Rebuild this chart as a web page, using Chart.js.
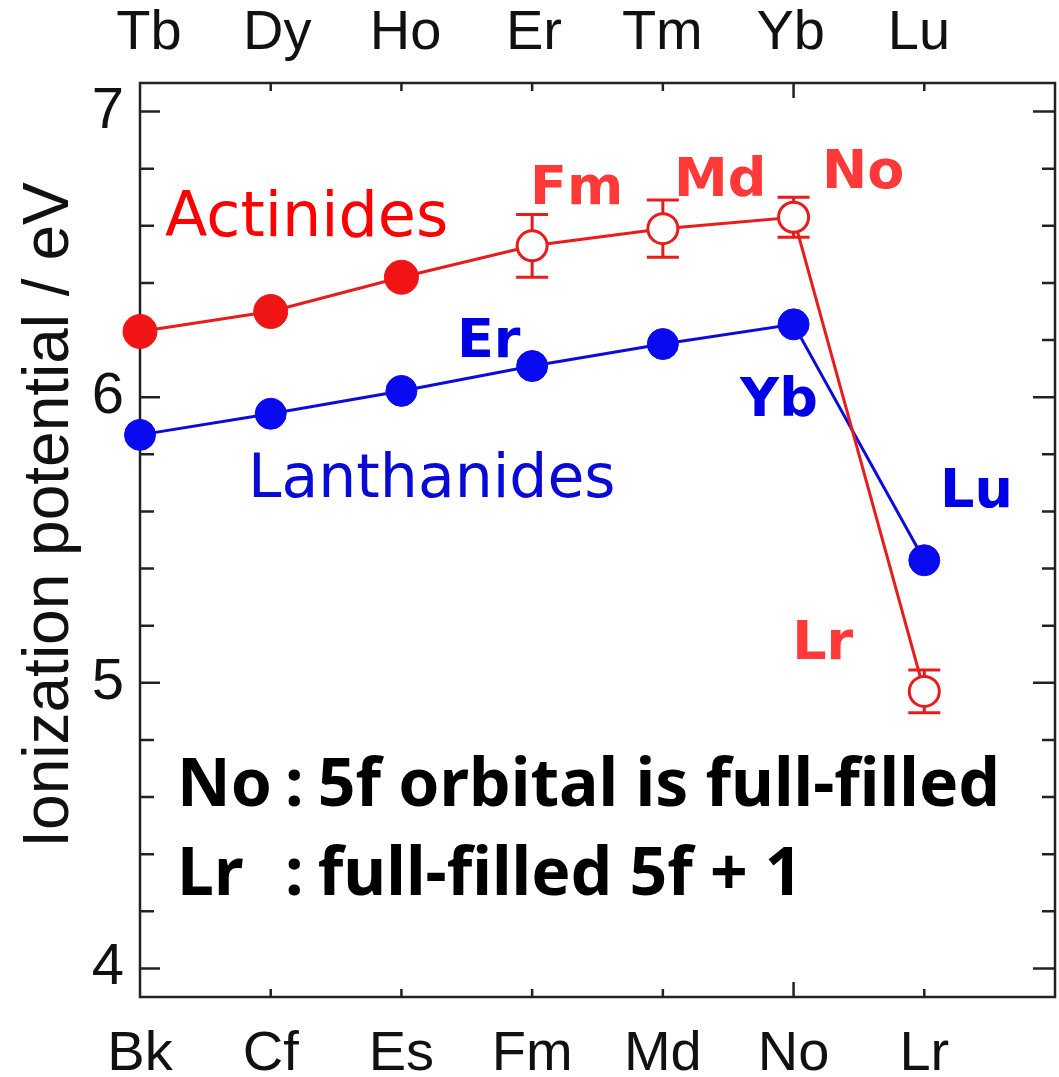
<!DOCTYPE html>
<html>
<head>
<meta charset="utf-8">
<script src="https://cdn.jsdelivr.net/npm/chart.js@4.4.1/dist/chart.umd.min.js"></script>
<style>
  html, body { margin: 0; padding: 0; background: #fff; overflow: hidden; }
  #wrap { width: 1059px; height: 1077px; }
  #myChart { display: block; }
</style>
</head>
<body>
<div id="wrap"><canvas id="myChart"></canvas></div>
<script>
// Actinides (bottom axis) and lanthanides (top axis), ionization potential in eV
const actinides = ['Bk', 'Cf', 'Es', 'Fm', 'Md', 'No', 'Lr'];
const lanthanides = ['Tb', 'Dy', 'Ho', 'Er', 'Tm', 'Yb', 'Lu'];
const actinideIP = [6.23, 6.30, 6.42, 6.53, 6.59, 6.63, 4.97];
const actinideErr = [null, null, null, 0.11, 0.10, 0.07, 0.075];
const lanthanideIP = [5.868, 5.942, 6.022, 6.109, 6.186, 6.255, 5.429];
const yLabels = [4, 5, 6, 7];

const RED = '#e81c1c';
const BLUE = '#0c0cd8';

// text notes, anchored in data coordinates (left / baseline)
const bigFont = 'bold 66px "Noto Sans"';
const notes = [
  { text: 'Actinides', x: 0.191, y: 6.566, font: '62px "DejaVu Sans"', color: '#ff0000' },
  { text: 'Lanthanides', x: 0.827, y: 5.652, font: '60px "DejaVu Sans"', color: '#0a0ad6' },
  { text: 'Fm', x: 2.984, y: 6.678, font: 'bold 54px "DejaVu Sans"', color: '#ff3838' },
  { text: 'Md', x: 4.086, y: 6.705, font: 'bold 54px "DejaVu Sans"', color: '#ff3838' },
  { text: 'No', x: 5.218, y: 6.733, font: 'bold 54px "DejaVu Sans"', color: '#ff3838' },
  { text: 'Lr', x: 4.989, y: 5.083, font: 'bold 54px "DejaVu Sans"', color: '#ff3838' },
  { text: 'Er', x: 2.425, y: 6.140, font: 'bold 54px "DejaVu Sans"', color: '#0000e6' },
  { text: 'Yb', x: 4.591, y: 5.935, font: 'bold 54px "DejaVu Sans"', color: '#0000e6' },
  { text: 'Lu', x: 6.121, y: 5.614, font: 'bold 54px "DejaVu Sans"', color: '#0000e6' },
  { text: 'No', x: 0.283, y: 4.567, font: bigFont, color: '#000' },
  { text: ':', x: 1.11, y: 4.567, font: bigFont, color: '#000' },
  { text: '5f orbital is full-filled', x: 1.36, y: 4.567, font: bigFont, color: '#000' },
  { text: 'Lr', x: 0.283, y: 4.257, font: bigFont, color: '#000' },
  { text: ':', x: 1.11, y: 4.257, font: bigFont, color: '#000' },
  { text: 'full-filled 5f + 1', x: 1.36, y: 4.257, font: bigFont, color: '#000' }
];

const overlay = {
  id: 'overlay',
  beforeDatasetsDraw(chart) {
    const ctx = chart.ctx, xs = chart.scales.x, ys = chart.scales.y;
    const a = chart.chartArea;
    ctx.save();
    // frame
    ctx.strokeStyle = '#222';
    ctx.lineWidth = 2.5;
    ctx.strokeRect(a.left, a.top, a.right - a.left, a.bottom - a.top);
    // y ticks (inward, both sides)
    for (let k = 0; k <= 15; k++) {
      const v = 4 + k * 0.2;
      const py = ys.getPixelForValue(v);
      const major = k % 5 === 0;
      ctx.beginPath();
      ctx.moveTo(a.left, py); ctx.lineTo(a.left + (major ? 20 : 14), py);
      ctx.moveTo(a.right, py); ctx.lineTo(a.right - (major ? 22 : 13), py);
      ctx.stroke();
    }
    // x ticks (inward, top and bottom)
    for (let i = 1; i < actinides.length; i++) {
      const px = xs.getPixelForValue(i);
      const len = i === 5 ? 15 : 8;
      ctx.beginPath();
      ctx.moveTo(px, a.bottom); ctx.lineTo(px, a.bottom - len);
      ctx.moveTo(px, a.top); ctx.lineTo(px, a.top + len);
      ctx.stroke();
    }
    // error bars
    ctx.strokeStyle = RED;
    ctx.lineWidth = 3;
    actinideErr.forEach((e, i) => {
      if (e == null) return;
      const px = xs.getPixelForValue(i);
      const hi = ys.getPixelForValue(actinideIP[i] + e);
      const lo = ys.getPixelForValue(actinideIP[i] - e);
      ctx.beginPath();
      ctx.moveTo(px, hi); ctx.lineTo(px, lo);
      ctx.moveTo(px - 16, hi); ctx.lineTo(px + 16, hi);
      ctx.moveTo(px - 16, lo); ctx.lineTo(px + 16, lo);
      ctx.stroke();
    });
    ctx.restore();
  },
  afterDatasetsDraw(chart) {
    const ctx = chart.ctx, xs = chart.scales.x, ys = chart.scales.y;
    ctx.save();
    ctx.textAlign = 'left';
    ctx.textBaseline = 'alphabetic';
    notes.forEach(n => {
      ctx.font = n.font;
      ctx.fillStyle = n.color;
      ctx.fillText(n.text, xs.getPixelForValue(n.x), ys.getPixelForValue(n.y));
    });
    // y axis title
    ctx.translate(68, 515);
    ctx.rotate(-Math.PI / 2);
    ctx.textAlign = 'center';
    ctx.font = '64px "Liberation Sans"';
    ctx.fillStyle = '#111';
    ctx.fillText('Ionization potential / eV', 0, 0);
    ctx.restore();
  }
};

Chart.defaults.font.family = '"Liberation Sans", Arial, sans-serif';
Chart.defaults.color = '#111';

const tickFont = { size: 56 };
const indexTicks = s => { s.ticks = actinides.map((_, i) => ({ value: i })); };

const config = {
  type: 'line',
  data: {
    datasets: [
      {
        label: 'Actinides',
        data: actinideIP.map((v, i) => ({ x: i, y: v })),
        borderColor: RED,
        borderWidth: 3,
        pointRadius: actinideErr.map(e => e == null ? 17 : 15),
        pointBorderWidth: actinideErr.map(e => e == null ? 1 : 3),
        pointBackgroundColor: actinideErr.map(e => e == null ? '#f01414' : '#ffffff'),
        pointBorderColor: RED,
        tension: 0,
        clip: false
      },
      {
        label: 'Lanthanides',
        data: lanthanideIP.map((v, i) => ({ x: i, y: v })),
        borderColor: BLUE,
        borderWidth: 3,
        pointRadius: 15.5,
        pointBorderWidth: 1,
        pointBackgroundColor: '#0a0af0',
        pointBorderColor: '#0a0af0',
        tension: 0,
        clip: false
      }
    ]
  },
  options: {
    responsive: true,
    maintainAspectRatio: false,
    animation: false,
    events: [],
    layout: { autoPadding: false, padding: { left: 0, right: 4, top: 0, bottom: 0 } },
    plugins: { legend: { display: false }, tooltip: { enabled: false } },
    scales: {
      x: {
        type: 'linear', position: 'bottom', min: 0, max: 7,
        grid: { display: false }, border: { display: false },
        afterBuildTicks: indexTicks,
        afterFit: s => { s.height = 80; s.paddingLeft = 0; s.paddingRight = 0; },
        ticks: {
          autoSkip: false, maxRotation: 0, padding: 16, font: tickFont,
          callback: v => actinides[v] ?? ''
        }
      },
      x2: {
        type: 'linear', position: 'top', min: -0.07, max: 7.06,
        grid: { display: false }, border: { display: false },
        afterBuildTicks: indexTicks,
        afterFit: s => { s.height = 83; s.paddingLeft = 0; s.paddingRight = 0; },
        ticks: {
          autoSkip: false, maxRotation: 0, padding: 8, font: tickFont,
          callback: v => lanthanides[v] ?? ''
        }
      },
      y: {
        type: 'linear', position: 'left', min: 3.9, max: 7.1,
        grid: { display: false }, border: { display: false },
        afterBuildTicks: s => { s.ticks = yLabels.map(v => ({ value: v })); },
        afterFit: s => { s.width = 140; },
        ticks: { autoSkip: false, padding: 8, font: { size: 58 } }
      }
    }
  },
  plugins: [overlay]
};

var myChart = new Chart(document.getElementById('myChart'), config);
</script>
</body>
</html>
